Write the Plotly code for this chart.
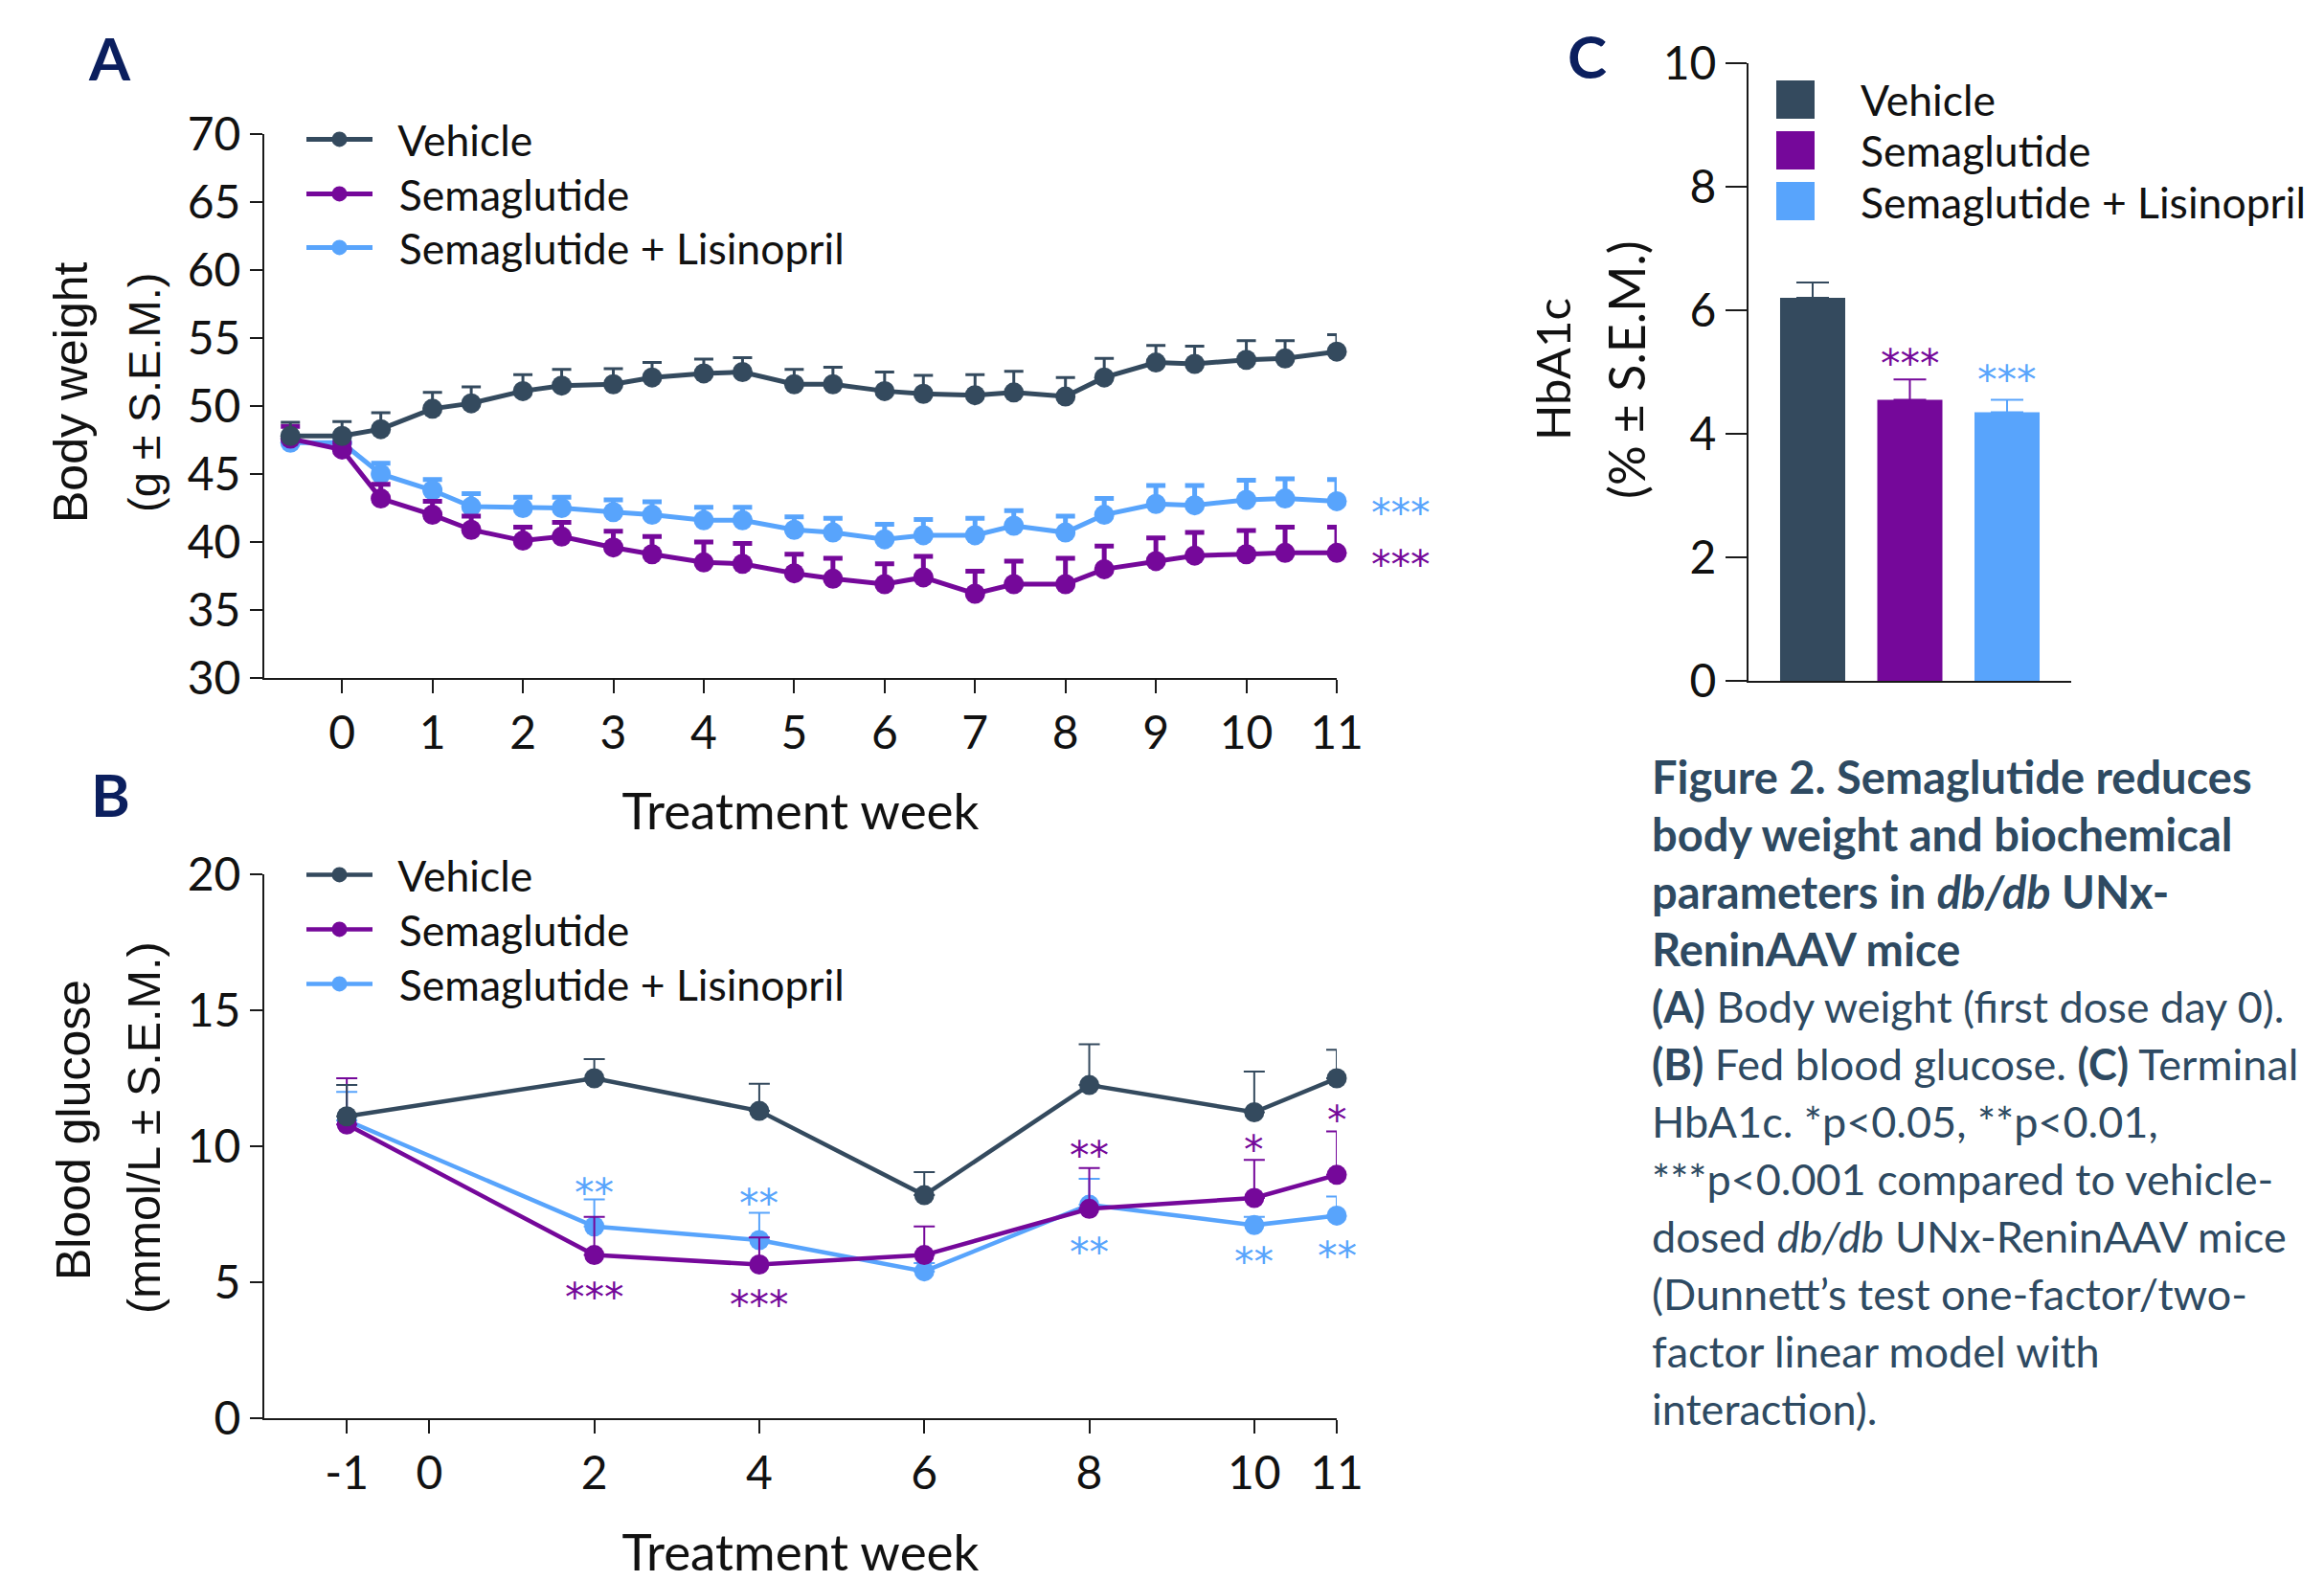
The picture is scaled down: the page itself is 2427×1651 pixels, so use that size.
import plotly.graph_objects as go

W, H = 2427, 1651          # browser window
OFF = 8                    # default page margin of the html body
FW, FH = W - OFF, H - OFF  # figure size

# ---------------- data ----------------
# Panel A: body weight (g), time points in days (first dose = day 0)
days_A = [-4, 0, 3, 7, 10, 14, 17, 21, 24, 28, 31, 35, 38, 42, 45, 49, 52, 56, 59, 63, 66, 70, 73, 77]
bw_vehicle = [47.8, 47.8, 48.3, 49.8, 50.2, 51.1, 51.5, 51.6, 52.1, 52.4, 52.5, 51.6,
              51.6, 51.1, 50.9, 50.8, 51.0, 50.7, 52.1, 53.2, 53.1, 53.4, 53.5, 54.0]
bw_vehicle_sem = [1.0, 1.05, 1.2, 1.2, 1.2, 1.2, 1.2, 1.15, 1.1, 1.05, 1.05, 1.1,
                  1.25, 1.4, 1.35, 1.5, 1.55, 1.4, 1.4, 1.25, 1.3, 1.4, 1.3, 1.25]
bw_sema = [47.6, 46.8, 43.2, 42.0, 40.9, 40.1, 40.4, 39.6, 39.1, 38.5, 38.4, 37.7,
           37.3, 36.9, 37.4, 36.2, 36.9, 36.9, 38.0, 38.6, 39.0, 39.1, 39.2, 39.2]
bw_sema_sem = [0.9, 0.5, 1.05, 1.0, 1.0, 1.0, 1.05, 1.2, 1.3, 1.5, 1.5, 1.4,
               1.5, 1.5, 1.55, 1.65, 1.7, 1.9, 1.7, 1.7, 1.7, 1.75, 1.9, 1.9]
bw_semalis = [47.3, 47.3, 45.0, 43.8, 42.6, 42.5, 42.5, 42.2, 42.0, 41.6, 41.6, 40.9,
              40.7, 40.2, 40.5, 40.5, 41.2, 40.7, 42.0, 42.8, 42.7, 43.1, 43.2, 43.0]
bw_semalis_sem = [0.5, 0.5, 0.8, 0.8, 0.95, 0.8, 0.8, 0.9, 0.95, 0.95, 0.95, 0.95,
                  1.05, 1.1, 1.15, 1.25, 1.1, 1.2, 1.2, 1.35, 1.45, 1.45, 1.45, 1.6]
ticks_A = [0, 1, 2, 3, 4, 5, 6, 7, 8, 9, 10, 11]
sig_A = [("***", 43.0, "semalis"), ("***", 39.2, "sema")]

# Panel B: fed blood glucose (mmol/L)
weeks_B = [-1, 2, 4, 6, 8, 10, 11]
bg_vehicle = [11.1, 12.5, 11.3, 8.2, 12.25, 11.25, 12.5]
bg_vehicle_sem = [1.15, 0.7, 1.0, 0.85, 1.5, 1.5, 1.05]
bg_sema = [10.8, 6.0, 5.65, 6.0, 7.7, 8.1, 8.95]
bg_sema_sem = [1.7, 1.4, 1.0, 1.05, 1.5, 1.4, 1.6]
bg_semalis = [10.95, 7.05, 6.55, 5.4, 7.85, 7.1, 7.45]
bg_semalis_sem = [1.05, 1.0, 1.0, 0.3, 0.95, 0.3, 0.7]
ticks_B = [-1, 0, 2, 4, 6, 8, 10, 11]
sig_B = [(2, 8.75, "**", "semalis"), (2, 4.9, "***", "sema"),
         (4, 8.35, "**", "semalis"), (4, 4.6, "***", "sema"),
         (8, 10.1, "**", "sema"), (8, 6.55, "**", "semalis"),
         (10, 10.3, "*", "sema"), (10, 6.2, "**", "semalis"),
         (11, 11.4, "*", "sema"), (11, 6.4, "**", "semalis")]

# Panel C: terminal HbA1c (%)
groups = ["Vehicle", "Semaglutide", "Semaglutide + Lisinopril"]
hba1c = [6.2, 4.55, 4.35]
hba1c_sem = [0.25, 0.33, 0.2]
sig_C = [("***", 1, 5.33), ("***", 2, 5.07)]
ticks_C = [0, 2, 4, 6, 8, 10]

# ---------------- style ----------------
COL = {"vehicle": "#344a5e", "sema": "#75089a", "semalis": "#58a4fc"}
KEYS = ["vehicle", "sema", "semalis"]
NAMES = dict(zip(KEYS, groups))
FONT = "Lato"
TITLE_FONT = "Liberation Sans"
STAR_FONT = "DejaVu Sans"
CAP_COL = "#2e4a62"
NAVY = "#0b1f5e"
AX_COL = "#1a1a1a"
TXT = "#111111"
NB = "\u00a0\u00a0"  # small gap between legend glyph and label


def px(x):
    """screen pixel x -> paper fraction"""
    return (x - OFF) / FW


def py(y):
    """screen pixel y -> paper fraction"""
    return 1 - (y - OFF) / FH


fig = go.Figure()

weeks_A = [d / 7 for d in days_A]
dataA = {"vehicle": (bw_vehicle, bw_vehicle_sem),
         "sema": (bw_sema, bw_sema_sem),
         "semalis": (bw_semalis, bw_semalis_sem)}
dataB = {"vehicle": (bg_vehicle, bg_vehicle_sem),
         "sema": (bg_sema, bg_sema_sem),
         "semalis": (bg_semalis, bg_semalis_sem)}

draw_order = ["semalis", "sema", "vehicle"]
legA = {"vehicle": "legend", "sema": "legend2", "semalis": "legend3"}
legB = {"vehicle": "legend4", "sema": "legend5", "semalis": "legend6"}

for k in draw_order:
    vals, sem = dataA[k]
    fig.add_trace(go.Scatter(
        x=weeks_A, y=vals, name=NB + NAMES[k], mode="lines+markers",
        line=dict(color=COL[k], width=5),
        marker=dict(color=COL[k], size=21),
        error_y=dict(type="data", symmetric=False, array=sem,
                     arrayminus=[0] * len(sem), color=COL[k],
                     thickness=3 if k == "vehicle" else 5, width=10),
        xaxis="x", yaxis="y", cliponaxis=False, legend=legA[k]))

for k in draw_order:
    vals, sem = dataB[k]
    fig.add_trace(go.Scatter(
        x=weeks_B, y=vals, name=NB + NAMES[k], mode="lines+markers",
        line=dict(color=COL[k], width=4.5),
        marker=dict(color=COL[k], size=21),
        error_y=dict(type="data", symmetric=False, array=sem,
                     arrayminus=[0] * len(sem), color=COL[k],
                     thickness=2, width=11),
        xaxis="x2", yaxis="y2", cliponaxis=False, legend=legB[k]))

for i, k in enumerate(KEYS):
    fig.add_trace(go.Bar(
        x=[groups[i]], y=[hba1c[i]], width=0.67, name=groups[i],
        marker=dict(color=COL[k], line=dict(width=0)),
        error_y=dict(type="data", symmetric=False, array=[hba1c_sem[i]],
                     arrayminus=[0], color=COL[k], thickness=2, width=17),
        xaxis="x3", yaxis="y3", showlegend=False))

axis_common = dict(showgrid=False, zeroline=False, showline=True, linecolor=AX_COL,
                   linewidth=2, ticks="outside", tickcolor=AX_COL, tickwidth=2,
                   automargin=False,
                   tickfont=dict(family=FONT, size=48, color=TXT))
xtitle_font = dict(family=FONT, size=53, color=TXT)


def leg(x, yc):
    return dict(x=px(x), y=py(yc - 40), xanchor="left", yanchor="top",
                font=dict(family=FONT, size=44.5, color=TXT), bgcolor="rgba(0,0,0,0)",
                borderwidth=0, itemwidth=69)


fig.update_layout(
    template="none",
    width=FW, height=FH, margin=dict(l=0, r=0, t=0, b=0, autoexpand=False),
    paper_bgcolor="white", plot_bgcolor="white",
    barmode="overlay",
    xaxis=dict(domain=[px(276), px(1396)], range=[-0.86, 11], tickvals=ticks_A,
               ticktext=[str(v) for v in ticks_A], ticklen=14, anchor="y",
               title=dict(text="Treatment week", font=xtitle_font, standoff=38),
               **axis_common),
    yaxis=dict(domain=[py(708), py(140)], range=[30, 70], dtick=5, ticklen=13,
               anchor="x", **axis_common),
    xaxis2=dict(domain=[px(276), px(1396)], range=[-2.0, 11], tickvals=ticks_B,
                ticktext=[str(v) for v in ticks_B], ticklen=14, anchor="y2",
                title=dict(text="Treatment week", font=xtitle_font, standoff=40),
                **axis_common),
    yaxis2=dict(domain=[py(1481), py(913)], range=[0, 20], dtick=5, ticklen=13,
                anchor="x2", **axis_common),
    xaxis3=dict(domain=[px(1826), px(2163)], range=[-0.66, 2.66], showticklabels=False,
                type="category", categoryorder="array", categoryarray=groups,
                anchor="y3", showgrid=False, zeroline=False, showline=True,
                linecolor=AX_COL, linewidth=2, ticks="", automargin=False),
    yaxis3=dict(domain=[py(711), py(66)], range=[0, 10], tickvals=ticks_C, ticklen=22,
                anchor="x3", **axis_common),
    legend=leg(315, 150), legend2=leg(315, 207), legend3=leg(315, 263),
    legend4=leg(315, 918), legend5=leg(315, 975), legend6=leg(315, 1032),
    showlegend=True,
)

ann = []
# panel letters
for letter, x, y in [("A", 114, 60), ("B", 115, 829), ("C", 1657, 58)]:
    ann.append(dict(text=f"<b>{letter}</b>", x=px(x), y=py(y), xref="paper", yref="paper",
                    showarrow=False, xanchor="center", yanchor="middle",
                    font=dict(family=FONT, size=62, color=NAVY)))

# y-axis titles (two lines each)
for txt, x, y, fam, size in [("Body weight", 74, 410, TITLE_FONT, 50),
                             ("(g ± S.E.M.)", 150, 410, TITLE_FONT, 47),
                             ("Blood glucose", 77, 1180, TITLE_FONT, 50),
                             ("(mmol/L ± S.E.M.)", 150, 1178, TITLE_FONT, 48.5),
                             ("HbA1c", 1621, 386, FONT, 49),
                             ("(% ± S.E.M.)", 1698, 386, FONT, 52)]:
    ann.append(dict(text=txt, x=px(x), y=py(y), xref="paper", yref="paper", showarrow=False,
                    textangle=-90, xanchor="center", yanchor="middle",
                    font=dict(family=fam, size=size, color=TXT)))

# significance stars
STAR = 41
SHIFT = -13
for txt, yv, k in sig_A:
    ann.append(dict(text=txt, x=px(1463), y=yv, xref="paper", yref="y", showarrow=False,
                    xanchor="center", yanchor="middle", yshift=SHIFT,
                    font=dict(family=STAR_FONT, size=STAR, color=COL[k])))
for xv, yv, txt, k in sig_B:
    ann.append(dict(text=txt, x=xv, y=yv, xref="x2", yref="y2", showarrow=False,
                    xanchor="center", yanchor="middle", yshift=SHIFT,
                    font=dict(family=STAR_FONT, size=STAR, color=COL[k])))
for txt, i, yv in sig_C:
    ann.append(dict(text=txt, x=groups[i], y=yv, xref="x3", yref="y3",
                    showarrow=False, xanchor="center", yanchor="middle", yshift=SHIFT,
                    font=dict(family=STAR_FONT, size=STAR, color=COL[KEYS[i]])))

# panel C legend (large square swatches)
for i, k in enumerate(KEYS):
    yc = 104 + 53 * i
    fig.add_shape(type="rect", xref="paper", yref="paper",
                  x0=px(1855), x1=px(1895), y0=py(yc - 20), y1=py(yc + 20),
                  fillcolor=COL[k], line=dict(width=0))
    ann.append(dict(text=NAMES[k], x=px(1941), y=py(yc), xref="paper", yref="paper",
                    showarrow=False, xanchor="left", yanchor="middle",
                    font=dict(family=FONT, size=44.5, color=TXT)))

# caption
caption = [
    ("<b>Figure 2. Semaglutide reduces</b>", 47),
    ("<b>body weight and biochemical</b>", 47),
    ("<b>parameters in <i>db/db</i> UNx-</b>", 47),
    ("<b>ReninAAV mice</b>", 47),
    ("<b>(A)</b> Body weight (first dose day 0).", 45),
    ("<b>(B)</b> Fed blood glucose. <b>(C)</b> Terminal", 45),
    ("HbA1c. *p&lt;0.05, **p&lt;0.01,", 45),
    ("***p&lt;0.001 compared to vehicle-", 45),
    ("dosed <i>db/db</i> UNx-ReninAAV mice", 45),
    ("(Dunnett’s test one-factor/two-", 45),
    ("factor linear model with", 45),
    ("interaction).", 45),
]
for i, (line, size) in enumerate(caption):
    ann.append(dict(text=line, x=px(1723), y=py(811 + 60 * i), xref="paper", yref="paper",
                    showarrow=False, xanchor="left", yanchor="middle",
                    font=dict(family=FONT, size=size, color=CAP_COL)))

fig.update_layout(annotations=ann)
fig.write_html("out.html")
